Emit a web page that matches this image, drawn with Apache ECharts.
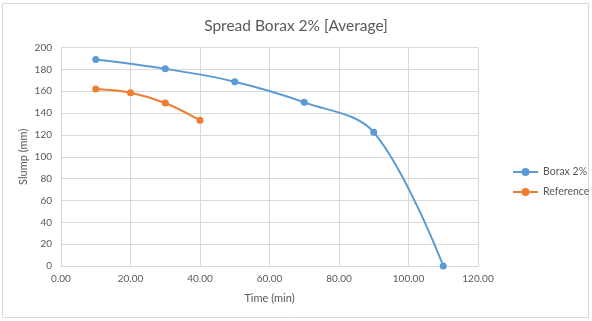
<!DOCTYPE html>
<html><head><meta charset="utf-8">
<script src="https://cdn.jsdelivr.net/npm/echarts@6/dist/echarts.min.js"></script>
<style>html,body{margin:0;padding:0;background:#fff}#c{width:592px;height:321px}</style>
</head><body><div id="c"></div>
<script>
const titleText = 'Spread Borax 2% [Average]';
const seriesNames = ['Borax 2%', 'Reference'];
const boraxTime = [10, 30, 50, 70, 90, 110];
const boraxSlump = [189, 180.5, 168.7, 149.8, 122.4, 0];
const refTime = [10, 20, 30, 40];
const refSlump = [162, 158.6, 149.2, 133.3];
const xAxisName = 'Time (min)';
const yAxisName = 'Slump (mm)';

const font = 'Lato, "Open Sans", sans-serif';
const chart = echarts.init(document.getElementById('c'));
chart.setOption({
  animation: false,
  textStyle: {fontFamily: font},
  graphic: [{type: 'rect', shape: {x: 2.5, y: 3.5, width: 586, height: 314}, style: {fill: 'none', stroke: '#d9d9d9', lineWidth: 1}}],
  title: {text: titleText, left: 'center', top: 13, textStyle: {fontFamily: font, fontSize: 15.5, fontWeight: 'normal', color: '#595959'}},
  grid: {left: 61, right: 114, top: 47.5, bottom: 55},
  legend: {
    orient: 'vertical', left: 507, top: 161.5, itemGap: 9, itemWidth: 25, itemHeight: 10,
    textStyle: {fontFamily: font, fontSize: 10.5, color: '#595959'},
    data: seriesNames
  },
  xAxis: {
    type: 'value', min: 0, max: 120, interval: 20,
    name: xAxisName, nameLocation: 'middle', nameGap: 27, nameMoveOverlap: false,
    nameTextStyle: {fontFamily: font, fontSize: 11, color: '#595959'},
    axisLine: {show: true, lineStyle: {color: '#d9d9d9'}},
    axisTick: {show: false},
    axisLabel: {fontFamily: font, fontSize: 10, color: '#595959', margin: 8, formatter: v => v.toFixed(2)},
    splitLine: {show: true, lineStyle: {color: '#d9d9d9'}}
  },
  yAxis: {
    type: 'value', min: 0, max: 200, interval: 20,
    name: yAxisName, nameLocation: 'middle', nameGap: 32, nameMoveOverlap: false,
    nameTextStyle: {fontFamily: font, fontSize: 11, color: '#595959'},
    axisLine: {show: false}, axisTick: {show: false},
    axisLabel: {fontFamily: font, fontSize: 10, color: '#595959', margin: 9},
    splitLine: {show: true, lineStyle: {color: '#d9d9d9'}}
  },
  series: [
    {name: seriesNames[0], type: 'line', smooth: 0.35, symbol: 'circle', symbolSize: 7,
     data: boraxTime.map((t, i) => [t, boraxSlump[i]]),
     itemStyle: {color: '#5b9bd5'}, lineStyle: {color: '#5b9bd5', width: 2}},
    {name: seriesNames[1], type: 'line', smooth: 0.35, symbol: 'circle', symbolSize: 7,
     data: refTime.map((t, i) => [t, refSlump[i]]),
     itemStyle: {color: '#ed7d31'}, lineStyle: {color: '#ed7d31', width: 2}}
  ]
});
</script></body></html>
